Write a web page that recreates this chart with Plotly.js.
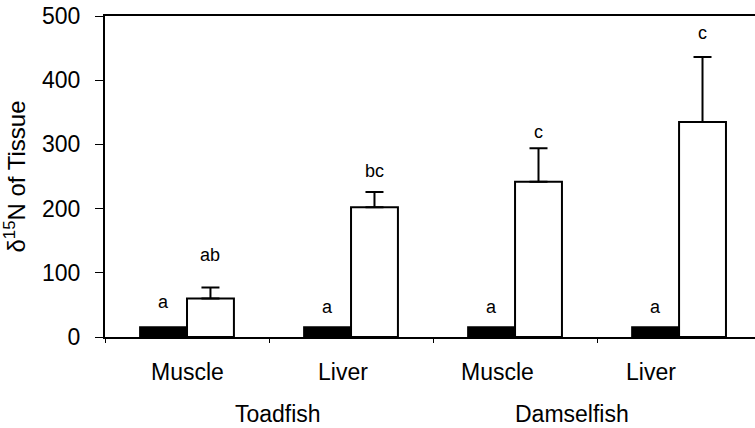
<!DOCTYPE html>
<html>
<head>
<meta charset="utf-8">
<script src="https://cdn.plot.ly/plotly-3.0.1.min.js"></script>
<style>html,body{margin:0;padding:0;background:#fff;}#chart{width:755px;height:428px;}</style>
</head>
<body>
<div id="chart"></div>
<script>
// Data
var tissues = ["Muscle", "Liver", "Muscle", "Liver"];
var species = ["Toadfish", "Damselfish"];
var controlValues = [15, 15, 15, 15];
var treatedValues = [60, 202, 242, 335];
var treatedErrors = [17, 24, 52, 101];
var controlLetters = ["a", "a", "a", "a"];
var treatedLetters = ["ab", "bc", "c", "c"];
var controlLetterY = [54, 47, 47, 47];
var treatedLetterY = [128, 258, 320, 474];
var yTicks = [0, 100, 200, 300, 400, 500];

var xIdx = tissues.map(function(_, i){ return i; });

var traceControl = {
  type: "bar", x: xIdx, y: controlValues, name: "Control",
  marker: {color: "#000000", line: {color: "#000000", width: 2}},
  hoverinfo: "y"
};
var traceTreated = {
  type: "bar", x: xIdx, y: treatedValues, name: "Treated",
  marker: {color: "#ffffff", line: {color: "#000000", width: 2}},
  error_y: {type: "data", array: treatedErrors, symmetric: false, arrayminus: treatedErrors.map(function(){return 0;}),
            color: "#000000", thickness: 2, width: 9},
  hoverinfo: "y"
};

// Geometry helpers (layout only)
var groupOffset = 0.143; // offset of each bar centre from category centre (x units)
var annotations = [];
xIdx.forEach(function(i){
  annotations.push({x: i - groupOffset, y: controlLetterY[i], xref: "x", yref: "y", text: controlLetters[i],
    showarrow: false, yanchor: "middle", font: {size: 18, color: "#000"}});
  annotations.push({x: i + groupOffset, y: treatedLetterY[i], xref: "x", yref: "y", text: treatedLetters[i],
    showarrow: false, yanchor: "middle", font: {size: 18, color: "#000"}});
});
var tissueLabelX = [0, 0.95, 1.89, 2.83];
tissues.forEach(function(t, i){
  annotations.push({x: tissueLabelX[i], y: -0.109, xref: "x", yref: "paper", text: t, showarrow: false,
    yanchor: "middle", font: {size: 23, color: "#000"}});
});
var speciesLabelX = [0.556, 2.347];
species.forEach(function(s, i){
  annotations.push({x: speciesLabelX[i], y: -0.24, xref: "x", yref: "paper", text: s, showarrow: false,
    yanchor: "middle", font: {size: 23, color: "#000"}});
});

var layout = {
  width: 755, height: 428,
  margin: {l: 105, r: 0, t: 16, b: 91, pad: 0},
  paper_bgcolor: "#ffffff", plot_bgcolor: "#ffffff",
  font: {family: "Liberation Sans, Arial, sans-serif", color: "#000"},
  showlegend: false,
  barmode: "group", bargap: 0.428, bargroupgap: 0,
  xaxis: {
    range: [-0.5, 3.463], showgrid: false, zeroline: false,
    showline: true, linecolor: "#000", linewidth: 2, mirror: true,
    tickmode: "array", tickvals: [-0.5, 0.5, 1.5, 2.5], ticks: "outside", ticklen: 4, tickwidth: 1, tickcolor: "#000",
    showticklabels: false, fixedrange: true
  },
  yaxis: {
    range: [0, 500], showgrid: false, zeroline: false,
    showline: true, linecolor: "#000", linewidth: 2,
    tickmode: "array", tickvals: yTicks, ticks: "outside", ticklen: 8, tickwidth: 1, tickcolor: "#000",
    ticklabelstandoff: 10,
    tickfont: {size: 23, color: "#000"},
    title: {text: "δ<sup>15</sup>N of Tissue", font: {size: 24, color: "#000"}, standoff: 10},
    fixedrange: true
  },
  annotations: annotations
};

Plotly.newPlot("chart", [traceControl, traceTreated], layout, {displayModeBar: false, staticPlot: true});
</script>
</body>
</html>
